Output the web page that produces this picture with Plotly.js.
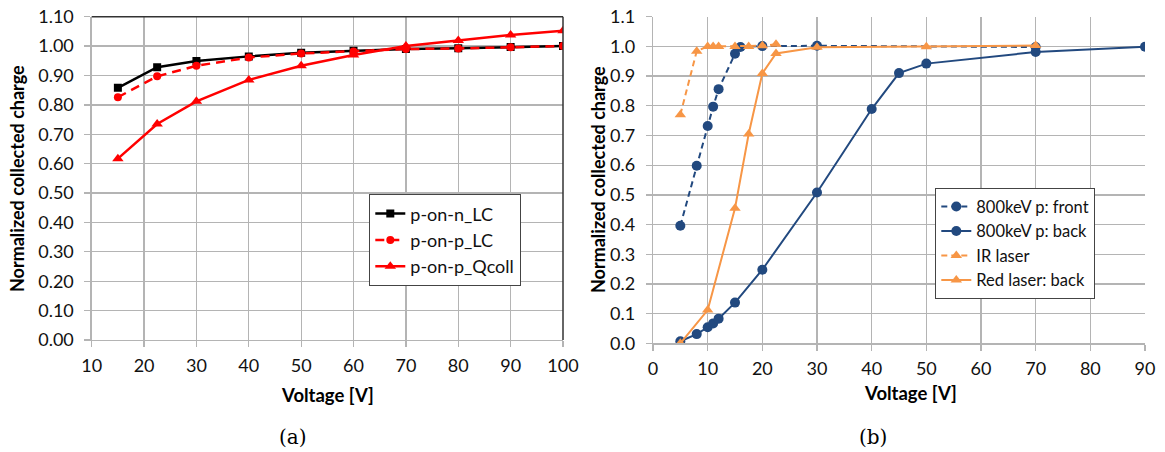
<!DOCTYPE html>
<html>
<head>
<meta charset="utf-8">
<script src="https://cdn.plot.ly/plotly-3.0.1.min.js"></script>
<style>html,body{margin:0;padding:0;background:#fff;} #chart{width:1165px;height:452px;}</style>
</head>
<body>
<div id="chart"></div>
<script>
// ---- Panel (a) data ----
const voltageA = [15, 22.5, 30, 40, 50, 60, 70, 80, 90, 100];
const pOnN_LC = [0.858, 0.928, 0.949, 0.965, 0.977, 0.984, 0.990, 0.993, 0.997, 1.000];
const pOnP_LC = [0.826, 0.897, 0.933, 0.961, 0.975, 0.982, 0.990, 0.992, 0.996, 1.000];
const pOnP_Qcoll = [0.617, 0.735, 0.812, 0.885, 0.933, 0.970, 1.000, 1.019, 1.038, 1.052];
const namesA = ["p-on-n_LC", "p-on-p_LC", "p-on-p_Qcoll"];

// ---- Panel (b) data ----
const voltFront = [5, 8, 10, 11, 12, 15, 16, 20, 30, 70];
const front800 = [0.396, 0.598, 0.732, 0.797, 0.856, 0.975, 0.998, 1.001, 1.002, 0.998];
const voltBack = [5, 8, 10, 11, 12, 15, 20, 30, 40, 45, 50, 70, 90];
const back800 = [0.007, 0.031, 0.054, 0.067, 0.083, 0.137, 0.248, 0.508, 0.789, 0.910, 0.942, 0.981, 0.999];
const voltIR = [5, 8, 10, 11, 12, 15, 17.5, 20, 22.5];
const irLaser = [0.770, 0.984, 1.000, 1.000, 1.000, 1.000, 1.000, 1.002, 1.007];
const voltRed = [5, 10, 15, 17.5, 20, 22.5, 30, 50, 70];
const redLaser = [0.000, 0.112, 0.455, 0.705, 0.909, 0.976, 0.997, 0.999, 1.003];
const namesB = ["800keV p: front", "800keV p: back", "IR laser", "Red laser: back"];

const xTicksA = [10, 20, 30, 40, 50, 60, 70, 80, 90, 100];
const yTicksA = [0, 0.1, 0.2, 0.3, 0.4, 0.5, 0.6, 0.7, 0.8, 0.9, 1.0, 1.1];
const xTicksB = [0, 10, 20, 30, 40, 50, 60, 70, 80, 90];

const W = 1165, H = 452;
const FONT = "Lato, 'Open Sans', sans-serif";
const BLUE = "#22497f", ORANGE = "#f79646", RED = "#ff0000";

const traces = [
  {x: voltageA, y: pOnN_LC, name: namesA[0], xaxis: "x", yaxis: "y", legend: "legend", legendgroup: "a1",
   mode: "lines+markers", line: {color: "#000", width: 2.5}, marker: {symbol: "square", size: 8, color: "#000"}},
  {x: voltageA, y: pOnP_LC, name: namesA[1], xaxis: "x", yaxis: "y", legend: "legend", legendgroup: "a2",
   mode: "lines+markers", line: {color: RED, width: 2.5, dash: "9px,6px"}, marker: {symbol: "circle", size: 8, color: RED}},
  {x: voltageA, y: pOnP_Qcoll, name: namesA[2], xaxis: "x", yaxis: "y", legend: "legend", legendgroup: "a3",
   mode: "lines+markers", line: {color: RED, width: 2.5}, marker: {symbol: "triangle-up", size: 10, color: RED}},

  {x: voltFront, y: front800, name: namesB[0], xaxis: "x2", yaxis: "y2", legend: "legend2",
   mode: "lines+markers", line: {color: BLUE, width: 2, dash: "6px,4px"}, marker: {symbol: "circle", size: 10, color: BLUE}},
  {x: voltBack, y: back800, name: namesB[1], xaxis: "x2", yaxis: "y2", legend: "legend2",
   mode: "lines+markers", line: {color: BLUE, width: 2}, marker: {symbol: "circle", size: 10, color: BLUE}},
  {x: voltIR, y: irLaser, name: namesB[2], xaxis: "x2", yaxis: "y2", legend: "legend2",
   mode: "lines+markers", line: {color: ORANGE, width: 2, dash: "6px,4px"}, marker: {symbol: "triangle-up", size: 10, color: ORANGE}},
  {x: voltRed, y: redLaser, name: namesB[3], xaxis: "x2", yaxis: "y2", legend: "legend2",
   mode: "lines+markers", line: {color: ORANGE, width: 2}, marker: {symbol: "triangle-up", size: 10, color: ORANGE}}
];

const GRID = "#b4b4b4";
const axisCommon = {
  showgrid: true, gridcolor: GRID, gridwidth: 1.3, zeroline: false,
  ticks: "outside", ticklen: 6, tickcolor: GRID, tickwidth: 1.3,
  showline: true, linecolor: GRID, linewidth: 1.3,
  tickfont: {family: FONT, size: 18, color: "#111"}, fixedrange: true
};

const layout = {
  width: W, height: H,
  margin: {l: 0, r: 0, t: 0, b: 0},
  paper_bgcolor: "#fff", plot_bgcolor: "#fff",
  showlegend: true,
  xaxis: Object.assign({}, axisCommon, {domain: [91.7 / W, 563 / W], range: [10, 100], tickvals: xTicksA, anchor: "y", ticklabelstandoff: 3}),
  yaxis: Object.assign({}, axisCommon, {domain: [1 - 340 / H, 1 - 16.7 / H], range: [0, 1.1], tickvals: yTicksA, tickformat: ".2f", anchor: "x", ticklabelstandoff: 7}),
  xaxis2: Object.assign({}, axisCommon, {domain: [653 / W, 1145 / W], range: [0, 90], tickvals: xTicksB, anchor: "y2", ticklabelstandoff: 3}),
  yaxis2: Object.assign({}, axisCommon, {domain: [1 - 343.3 / H, 1 - 16.7 / H], range: [0, 1.1], tickvals: yTicksA, tickformat: ".1f", anchor: "x2", ticklabelstandoff: 7}),
  legend: {x: 369 / W, y: 1 - 194 / H, xanchor: "left", yanchor: "top", bgcolor: "#fff", bordercolor: "#444", borderwidth: 1.3,
           font: {family: FONT, size: 18, color: "#111"}, tracegroupgap: 11, traceorder: "normal", itemwidth: 30},
  legend2: {x: 935 / W, y: 1 - 188 / H, xanchor: "left", yanchor: "top", bgcolor: "#fff", bordercolor: "#444", borderwidth: 1.3,
           font: {family: FONT, size: 16.5, color: "#111"}, traceorder: "normal", itemwidth: 30},
  shapes: [
    {type: "line", xref: "x domain", yref: "y domain", x0: 0, x1: 1, y0: 1, y1: 1, line: {color: "#333", width: 1.5}},
    {type: "line", xref: "x domain", yref: "y domain", x0: 1, x1: 1, y0: 0, y1: 1, line: {color: "#333", width: 1.5}}
  ],
  annotations: [
    {text: "<b>Normalized collected charge</b>", xref: "paper", yref: "paper", x: 17 / W, y: 1 - 179 / H, textangle: -90,
     showarrow: false, font: {family: FONT, size: 18, color: "#000"}, xanchor: "center", yanchor: "middle"},
    {text: "<b>Normalized collected charge</b>", xref: "paper", yref: "paper", x: 598 / W, y: 1 - 180 / H, textangle: -90,
     showarrow: false, font: {family: FONT, size: 18, color: "#000"}, xanchor: "center", yanchor: "middle"},
    {text: "<b>Voltage [V]</b>", xref: "paper", yref: "paper", x: 327 / W, y: 1 - 395 / H,
     showarrow: false, font: {family: FONT, size: 18.5, color: "#000"}, xanchor: "center", yanchor: "middle"},
    {text: "<b>Voltage [V]</b>", xref: "paper", yref: "paper", x: 910 / W, y: 1 - 393 / H,
     showarrow: false, font: {family: FONT, size: 18.5, color: "#000"}, xanchor: "center", yanchor: "middle"},
    {text: "(a)", xref: "paper", yref: "paper", x: 293 / W, y: 1 - 437 / H,
     showarrow: false, font: {family: "'DejaVu Serif', 'Liberation Serif', serif", size: 20, color: "#000"}, xanchor: "center", yanchor: "middle"},
    {text: "(b)", xref: "paper", yref: "paper", x: 873 / W, y: 1 - 437 / H,
     showarrow: false, font: {family: "'DejaVu Serif', 'Liberation Serif', serif", size: 20, color: "#000"}, xanchor: "center", yanchor: "middle"}
  ]
};

Plotly.newPlot("chart", traces, layout, {displayModeBar: false, staticPlot: true});
</script>
</body>
</html>
